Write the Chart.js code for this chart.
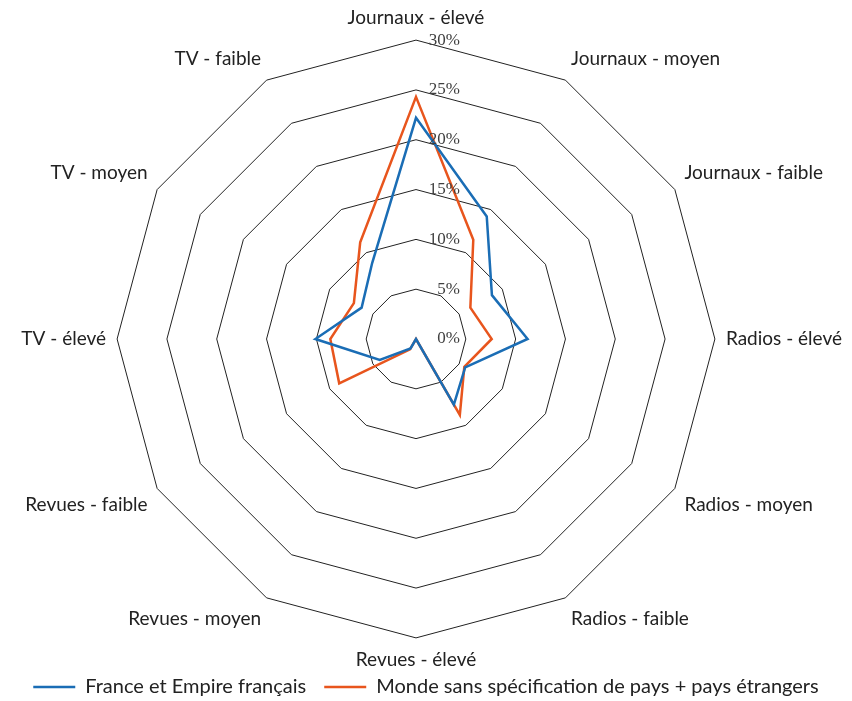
<!DOCTYPE html>
<html>
<head>
<meta charset="utf-8">
<script src="https://cdn.jsdelivr.net/npm/chart.js@4"></script>
<style>
    html, body { margin: 0; padding: 0; background: #fff; }
    #wrap { width: 852px; height: 701px; }
</style>
</head>
<body>
<div id="wrap"><canvas id="radarChart"></canvas></div>
<script>
const categories = [
    'Journaux - élevé', 'Journaux - moyen', 'Journaux - faible',
    'Radios - élevé', 'Radios - moyen', 'Radios - faible',
    'Revues - élevé', 'Revues - moyen', 'Revues - faible',
    'TV - élevé', 'TV - moyen', 'TV - faible'
];
const franceValues = [22.2, 14.2, 8.8, 11.2, 5.7, 7.6, 0, 1.1, 4.2, 10.1, 6.3, 8.8];
const mondeValues = [24.3, 11.5, 6.3, 7.6, 5.6, 8.8, 0, 1.2, 8.9, 8.6, 7.2, 11.2];
const tickValues = [0, 5, 10, 15, 20, 25, 30];

const labelFont = "Lato, 'Noto Sans', sans-serif";
const LEGEND_TRIM = 20;   // height taken off the legend box
const LEGEND_LIFT = 14;   // how far its top edge moves up over the chart area
const SHIFT_X = 6;        // nudge the web to the right after layout

// percent labels drawn right-aligned just to the right of the vertical axis
const tickLabels = {
    id: 'tickLabels',
    afterDatasetsDraw(chart) {
        const scale = chart.scales.r;
        const ctx = chart.ctx;
        ctx.save();
        ctx.font = "17px 'Liberation Serif', serif";
        ctx.fillStyle = '#404040';
        ctx.textAlign = 'right';
        ctx.textBaseline = 'middle';
        tickValues.forEach(v => {
            const d = scale.getDistanceFromCenterForValue(v);
            ctx.fillText(v + '%', scale.xCenter + 44, scale.yCenter - d);
        });
        ctx.restore();
    }
};

// legend keeps wide gaps between items but takes less room under the chart;
// the radial scale is also moved a little to the right
const layoutTweaks = {
    id: 'layoutTweaks',
    beforeLayout(chart) {
        const legend = chart.legend;
        if (legend && !legend._trimmed) {
            const fit = legend.fit;
            legend.fit = function () {
                fit.call(this);
                this.height -= LEGEND_TRIM;
            };
            legend._trimmed = true;
        }
    },
    afterLayout(chart) {
        chart.legend.top -= LEGEND_LIFT;
        const r = chart.scales.r;
        r.xCenter += SHIFT_X;
        (r._pointLabelItems || []).forEach(item => {
            item.x += SHIFT_X;
            item.left += SHIFT_X;
            item.right += SHIFT_X;
        });
    }
};

const ctx = document.getElementById('radarChart').getContext('2d');
new Chart(ctx, {
    type: 'radar',
    data: {
        labels: categories,
        datasets: [{
            label: 'France et Empire français',
            data: franceValues,
            borderColor: '#1a6db5',
            backgroundColor: 'transparent',
            borderWidth: 2.5,
            pointRadius: 0,
            fill: false
        }, {
            label: 'Monde sans spécification de pays + pays étrangers',
            data: mondeValues,
            borderColor: '#e8551d',
            backgroundColor: 'transparent',
            borderWidth: 2.5,
            pointRadius: 0,
            fill: false
        }]
    },
    options: {
        responsive: true,
        maintainAspectRatio: false,
        animation: false,
        events: [],
        layout: { padding: { top: 5, bottom: 0, left: 0, right: 0 } },
        plugins: {
            legend: {
                position: 'bottom',
                labels: {
                    usePointStyle: true,
                    pointStyle: 'line',
                    pointStyleWidth: 42,
                    color: '#222',
                    font: { family: labelFont, size: 20 },
                    padding: 18
                }
            },
            tooltip: { enabled: false }
        },
        scales: {
            r: {
                min: 0,
                max: 30,
                ticks: { stepSize: 5, display: false },
                angleLines: { display: false },
                grid: { color: '#222', lineWidth: 1 },
                pointLabels: {
                    color: '#222',
                    font: { family: labelFont, size: 19 },
                    padding: 11
                }
            }
        }
    },
    plugins: [tickLabels, layoutTweaks]
});
</script>
</body>
</html>
